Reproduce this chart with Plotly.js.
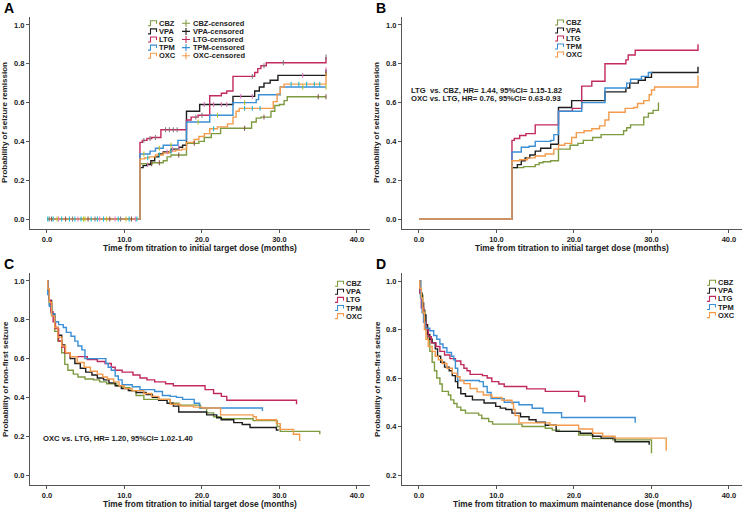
<!DOCTYPE html>
<html>
<head>
<meta charset="utf-8">
<script src="https://cdn.plot.ly/plotly-3.0.1.min.js"></script>
<style>html,body{margin:0;padding:0;background:#fff}#chart{width:745px;height:513px}</style>
</head>
<body>
<div id="chart"></div>
<script>
const drugs = ['CBZ', 'VPA', 'LTG', 'TPM', 'OXC'];
const colors = { CBZ: '#7f9b40', VPA: '#1e1e1e', LTG: '#c22a5d', TPM: '#3a8fd5', OXC: '#f39b4b' };

// panel A: seizure remission, time to initial target dose
const tA_CBZ = [0, 12.0, 13.6, 15.0, 15.5, 16.0, 18.0, 19.6, 20.3, 21.2, 22.4, 26.4, 27.0, 27.6, 28.9, 29.4, 30.0, 30.6, 31.0, 36];
const sA_CBZ = [0, 0.285, 0.29, 0.30, 0.32, 0.33, 0.39, 0.40, 0.42, 0.44, 0.468, 0.50, 0.52, 0.525, 0.555, 0.585, 0.59, 0.61, 0.63, 0.63];
const tA_VPA = [0, 12.0, 12.4, 12.9, 13.4, 13.9, 14.4, 15.0, 16.0, 17.0, 17.5, 18.0, 19.7, 24.0, 26.8, 27.4, 28.0, 28.8, 29.8, 36];
const sA_VPA = [0, 0.265, 0.275, 0.28, 0.30, 0.32, 0.335, 0.345, 0.36, 0.37, 0.38, 0.555, 0.59, 0.632, 0.66, 0.68, 0.70, 0.715, 0.74, 0.77];
const tA_LTG = [0, 12.0, 12.3, 12.9, 13.5, 14.7, 18.0, 18.6, 19.5, 21.0, 22.5, 23.2, 24.0, 26.8, 27.2, 27.6, 28.3, 36];
const sA_LTG = [0, 0.395, 0.405, 0.415, 0.42, 0.46, 0.51, 0.525, 0.535, 0.635, 0.648, 0.66, 0.735, 0.755, 0.775, 0.79, 0.805, 0.835];
const tA_TPM = [0, 12.0, 13.3, 14.0, 15.0, 16.9, 18.0, 21.0, 24.0, 27.0, 27.3, 30.1, 36];
const sA_TPM = [0, 0.335, 0.35, 0.365, 0.38, 0.405, 0.50, 0.535, 0.60, 0.615, 0.64, 0.68, 0.68];
const tA_OXC = [0, 12.0, 12.6, 13.2, 14.0, 15.0, 15.8, 16.6, 17.4, 18.0, 19.0, 19.6, 20.3, 21.0, 22.0, 23.3, 24.0, 24.4, 24.8, 29.2, 29.7, 30.1, 30.6, 36];
const sA_OXC = [0, 0.31, 0.315, 0.32, 0.33, 0.34, 0.35, 0.355, 0.36, 0.395, 0.41, 0.425, 0.44, 0.465, 0.475, 0.49, 0.525, 0.555, 0.57, 0.605, 0.645, 0.68, 0.695, 0.755];

// censored times in panel A
const cA_CBZ = [0.6, 2.4, 5.3, 8.1, 10.9, 13.5, 14.5, 17.0, 19.0, 25.5, 28.0, 35.0, 36];
const cA_VPA = [1.5, 4.0, 6.8, 8.8, 11.4, 13.0, 15.5, 16.2, 17.0, 20.3, 21.5, 22.5, 23.2, 25.0, 26.5, 33.0, 36];
const cA_LTG = [0.3, 3.3, 6.2, 9.5, 12.5, 13.3, 14.0, 15.3, 15.8, 16.3, 16.8, 19.2, 20.0, 26.5, 28.0, 30.5, 36];
const cA_TPM = [1.3, 4.7, 4.9, 7.7, 10.2, 12.5, 14.5, 16.0, 19.5, 22.0, 25.5, 33.0, 36];
const cA_OXC = [0.1, 0.8, 1.9, 2.9, 3.6, 4.4, 5.7, 6.5, 7.3, 9.2, 10.6, 11.6, 13.0, 14.5, 16.0, 21.5, 25.5, 26.5, 27.5, 31.5, 32.5, 33.5, 34.5, 35.2];

// panel B
const tB_CBZ = [0, 12, 13.5, 15.0, 15.5, 16.0, 17.0, 18.0, 19.5, 20.5, 21.2, 22.4, 23.5, 26.4, 26.8, 27.3, 29.0, 29.6, 30.2, 30.9];
const sB_CBZ = [0, 0.265, 0.27, 0.28, 0.29, 0.295, 0.30, 0.36, 0.38, 0.39, 0.405, 0.42, 0.435, 0.455, 0.47, 0.485, 0.525, 0.545, 0.56, 0.60];
const tB_VPA = [0, 12, 12.7, 13.2, 13.7, 14.3, 15.0, 15.7, 17.0, 18.0, 19.7, 24.0, 26.7, 27.2, 28.3, 29.2, 30.0, 36];
const sB_VPA = [0, 0.265, 0.28, 0.30, 0.315, 0.33, 0.35, 0.365, 0.385, 0.575, 0.61, 0.655, 0.675, 0.70, 0.715, 0.73, 0.755, 0.785];
const tB_LTG = [0, 12, 12.3, 13.0, 13.8, 15.0, 18.0, 19.8, 21.0, 22.3, 24.0, 26.7, 27.0, 27.9, 36];
const sB_LTG = [0, 0.405, 0.415, 0.43, 0.44, 0.485, 0.555, 0.57, 0.685, 0.71, 0.80, 0.82, 0.845, 0.87, 0.90];
const tB_TPM = [0, 12, 13.2, 14.2, 15.0, 17.0, 17.4, 18.0, 21.0, 24.0, 26.8, 27.3, 28.7, 29.6, 30.1];
const sB_TPM = [0, 0.345, 0.37, 0.375, 0.40, 0.405, 0.435, 0.555, 0.60, 0.675, 0.70, 0.72, 0.735, 0.755, 0.755];
const tB_OXC = [0, 12, 13.0, 14.0, 15.0, 16.3, 17.4, 18.0, 18.8, 19.7, 20.3, 21.3, 22.3, 23.3, 24.0, 24.5, 26.6, 27.7, 28.2, 29.0, 29.7, 30.0, 30.4, 36];
const sB_OXC = [0, 0.30, 0.305, 0.315, 0.325, 0.335, 0.36, 0.38, 0.39, 0.42, 0.445, 0.455, 0.465, 0.48, 0.51, 0.55, 0.57, 0.575, 0.595, 0.61, 0.64, 0.665, 0.68, 0.74];

// panel C: non-first seizure, time to initial target dose
const tC_CBZ = [0, 0.1, 0.3, 0.6, 1.0, 1.4, 1.9, 2.3, 2.7, 3.4, 4.0, 4.9, 6.0, 6.8, 7.7, 9.0, 9.8, 10.7, 11.5, 12.5, 15.9, 17.0, 19.8, 20.6, 21.5, 22.4, 26.6, 29.7, 30.1, 35.2];
const sC_CBZ = [1.0, 0.95, 0.88, 0.82, 0.74, 0.69, 0.63, 0.57, 0.54, 0.52, 0.505, 0.495, 0.49, 0.48, 0.47, 0.46, 0.45, 0.435, 0.41, 0.39, 0.37, 0.36, 0.345, 0.32, 0.30, 0.29, 0.28, 0.25, 0.225, 0.21];
const tC_VPA = [0, 0.1, 0.3, 0.6, 1.0, 1.4, 1.9, 2.3, 3.0, 3.6, 4.3, 5.0, 5.8, 6.5, 7.3, 8.0, 8.8, 9.6, 10.5, 11.5, 12.8, 13.6, 14.4, 15.5, 16.3, 17.0, 20.6, 21.9, 22.5, 24.1, 25.2, 26.2, 29.6, 29.9];
const sC_VPA = [1.0, 0.96, 0.90, 0.83, 0.76, 0.72, 0.67, 0.63, 0.60, 0.575, 0.55, 0.53, 0.515, 0.50, 0.49, 0.475, 0.46, 0.445, 0.435, 0.425, 0.415, 0.40, 0.385, 0.37, 0.355, 0.325, 0.31, 0.295, 0.285, 0.27, 0.26, 0.245, 0.232, 0.232];
const tC_LTG = [0, 0.1, 0.3, 0.5, 0.8, 1.1, 1.5, 1.9, 2.3, 3.0, 5.2, 6.5, 7.5, 8.3, 8.8, 9.7, 11.1, 12.0, 12.9, 13.9, 15.3, 16.3, 20.4, 21.5, 22.5, 23.2, 32.2];
const sC_LTG = [1.0, 0.96, 0.90, 0.84, 0.79, 0.755, 0.69, 0.66, 0.63, 0.61, 0.595, 0.585, 0.575, 0.555, 0.54, 0.53, 0.515, 0.50, 0.49, 0.48, 0.47, 0.46, 0.44, 0.42, 0.405, 0.385, 0.365];
const tC_TPM = [0, 0.1, 0.3, 0.6, 1.0, 1.5, 2.1, 2.5, 3.1, 3.6, 4.0, 4.5, 4.9, 7.6, 7.9, 8.3, 8.8, 9.2, 9.7, 11.0, 12.0, 13.9, 14.9, 15.9, 16.7, 17.5, 19.0, 19.7, 27.8];
const sC_TPM = [1.0, 0.93, 0.87, 0.83, 0.79, 0.775, 0.76, 0.735, 0.715, 0.69, 0.665, 0.645, 0.60, 0.575, 0.555, 0.54, 0.51, 0.49, 0.465, 0.455, 0.44, 0.43, 0.41, 0.405, 0.40, 0.39, 0.37, 0.345, 0.33];
const tC_OXC = [0, 0.1, 0.3, 0.6, 1.0, 1.4, 1.9, 2.4, 3.0, 3.9, 4.8, 5.6, 6.5, 7.2, 7.8, 8.6, 9.3, 10.0, 11.0, 12.5, 13.5, 14.4, 15.9, 17.2, 18.9, 20.0, 22.4, 26.6, 27.0, 29.6, 30.1, 31.8, 32.6];
const sC_OXC = [1.0, 0.96, 0.89, 0.82, 0.76, 0.71, 0.665, 0.63, 0.61, 0.58, 0.555, 0.535, 0.52, 0.505, 0.495, 0.48, 0.46, 0.445, 0.435, 0.42, 0.405, 0.39, 0.365, 0.355, 0.35, 0.345, 0.31, 0.30, 0.285, 0.265, 0.235, 0.21, 0.175];

// panel D: non-first seizure, time to maximum maintenance dose
const tD_CBZ = [0, 0.2, 0.5, 0.8, 1.1, 1.4, 1.7, 2.0, 2.3, 2.7, 3.0, 3.8, 4.1, 4.5, 4.9, 5.4, 6.0, 7.7, 8.1, 9.0, 9.5, 13.3, 16.3, 17.2, 18.1, 20.6, 22.4, 25.0, 30.0];
const sD_CBZ = [1.0, 0.94, 0.88, 0.82, 0.76, 0.71, 0.665, 0.63, 0.60, 0.575, 0.545, 0.53, 0.51, 0.495, 0.48, 0.467, 0.455, 0.447, 0.433, 0.42, 0.41, 0.40, 0.393, 0.385, 0.38, 0.365, 0.35, 0.345, 0.29];
const tD_VPA = [0, 0.2, 0.4, 0.6, 0.9, 1.1, 1.4, 1.7, 2.1, 2.4, 2.8, 3.3, 3.9, 4.3, 4.7, 5.0, 5.4, 6.0, 6.9, 8.4, 9.9, 10.5, 11.2, 12.0, 13.1, 14.2, 15.1, 16.3, 17.7, 20.8, 22.4, 23.5, 25.3, 29.7];
const sD_VPA = [1.0, 0.95, 0.91, 0.86, 0.82, 0.78, 0.76, 0.745, 0.72, 0.69, 0.665, 0.645, 0.63, 0.61, 0.585, 0.56, 0.535, 0.525, 0.51, 0.497, 0.483, 0.476, 0.47, 0.455, 0.44, 0.428, 0.418, 0.405, 0.38, 0.372, 0.36, 0.352, 0.337, 0.325];
const tD_LTG = [0, 0.1, 0.3, 0.6, 0.9, 1.2, 1.6, 2.2, 2.7, 3.3, 4.0, 4.7, 5.4, 5.8, 6.2, 6.6, 8.2, 8.8, 9.4, 10.3, 11.0, 13.9, 16.3, 20.6, 21.4];
const sD_LTG = [1.0, 0.95, 0.89, 0.83, 0.80, 0.77, 0.745, 0.73, 0.71, 0.695, 0.68, 0.67, 0.655, 0.64, 0.63, 0.615, 0.61, 0.60, 0.585, 0.575, 0.565, 0.555, 0.545, 0.525, 0.50];
const tD_TPM = [0, 0.2, 0.4, 0.6, 0.8, 1.4, 1.9, 2.3, 2.7, 3.1, 3.6, 4.2, 4.5, 4.7, 5.0, 7.8, 8.3, 8.8, 9.3, 11.0, 12.9, 14.6, 16.0, 18.4, 27.9];
const sD_TPM = [1.0, 0.93, 0.87, 0.83, 0.805, 0.795, 0.775, 0.76, 0.74, 0.725, 0.705, 0.69, 0.675, 0.64, 0.59, 0.585, 0.565, 0.54, 0.515, 0.50, 0.49, 0.475, 0.457, 0.437, 0.415];
const tD_OXC = [0, 0.1, 0.3, 0.5, 0.7, 0.9, 1.2, 1.7, 2.1, 2.5, 3.0, 3.6, 4.3, 4.9, 5.3, 5.8, 6.6, 7.5, 8.3, 9.4, 10.7, 12.0, 12.2, 12.4, 12.9, 16.9, 20.6, 22.4, 23.7, 25.3, 31.9];
const sD_OXC = [1.0, 0.97, 0.93, 0.87, 0.80, 0.76, 0.73, 0.71, 0.69, 0.675, 0.66, 0.64, 0.62, 0.605, 0.59, 0.577, 0.557, 0.543, 0.53, 0.52, 0.508, 0.495, 0.47, 0.445, 0.415, 0.405, 0.39, 0.372, 0.36, 0.352, 0.30];

const xTicks = [0, 10, 20, 30, 40];
const yTicks = [0, 0.2, 0.4, 0.6, 0.8, 1.0];
const yTicksD = [0.2, 0.4, 0.6, 0.8, 1.0];

const hrB1 = 'LTG  vs. CBZ, HR= 1.44, 95%CI= 1.15-1.82';
const hrB2 = 'OXC vs. LTG, HR= 0.76, 95%CI= 0.63-0.93';
const hrC = 'OXC vs. LTG, HR= 1.20, 95%CI= 1.02-1.40';
const xTitle1 = 'Time from titration to initial target dose (months)';
const xTitle2 = 'Time from titration to maximum maintenance dose (months)';
const yTitle1 = 'Probability of seizure remission';
const yTitle2 = 'Probability of non-first seizure';

const panelData = {
  A: { CBZ: [tA_CBZ, sA_CBZ], VPA: [tA_VPA, sA_VPA], LTG: [tA_LTG, sA_LTG], TPM: [tA_TPM, sA_TPM], OXC: [tA_OXC, sA_OXC] },
  B: { CBZ: [tB_CBZ, sB_CBZ], VPA: [tB_VPA, sB_VPA], LTG: [tB_LTG, sB_LTG], TPM: [tB_TPM, sB_TPM], OXC: [tB_OXC, sB_OXC] },
  C: { CBZ: [tC_CBZ, sC_CBZ], VPA: [tC_VPA, sC_VPA], LTG: [tC_LTG, sC_LTG], TPM: [tC_TPM, sC_TPM], OXC: [tC_OXC, sC_OXC] },
  D: { CBZ: [tD_CBZ, sD_CBZ], VPA: [tD_VPA, sD_VPA], LTG: [tD_LTG, sD_LTG], TPM: [tD_TPM, sD_TPM], OXC: [tD_OXC, sD_OXC] }
};
const censA = { CBZ: cA_CBZ, VPA: cA_VPA, LTG: cA_LTG, TPM: cA_TPM, OXC: cA_OXC };

const W = 745, H = 513;
const px = v => v / W;
const py = v => 1 - v / H;
const FONT = 'Liberation Sans, Arial, sans-serif';

// pixel boxes of the four plot areas
const panels = [
  { id: 'A', ax: '', left: 30, right: 370, top: 17, bottom: 229, yr: [-0.0515, 1.041], yt: yTicks, xt: xTitle1, ytl: yTitle1 },
  { id: 'B', ax: '2', left: 402, right: 742, top: 17, bottom: 229, yr: [-0.0515, 1.041], yt: yTicks, xt: xTitle1, ytl: yTitle1 },
  { id: 'C', ax: '3', left: 30, right: 370, top: 273, bottom: 485, yr: [-0.0515, 1.041], yt: yTicks, xt: xTitle1, ytl: yTitle2 },
  { id: 'D', ax: '4', left: 402, right: 742, top: 273, bottom: 485, yr: [0.1588, 1.033], yt: yTicksD, xt: xTitle2, ytl: yTitle2 }
];

function stepAt(t, s, x) {
  let v = s[0];
  for (let i = 0; i < t.length; i++) if (t[i] <= x) v = s[i];
  return v;
}

const traces = [];
const layout = {
  width: W, height: H,
  margin: { l: 0, r: 0, t: 0, b: 0 },
  paper_bgcolor: '#ffffff', plot_bgcolor: '#ffffff',
  showlegend: false,
  font: { family: FONT, color: '#222' },
  annotations: [], shapes: []
};

panels.forEach(p => {
  const xa = 'x' + p.ax, ya = 'y' + p.ax;
  drugs.forEach(d => {
    const [t, s] = panelData[p.id][d];
    traces.push({
      x: t, y: s, xaxis: xa, yaxis: ya, type: 'scatter', mode: 'lines',
      line: { shape: 'hv', color: colors[d], width: 1.4 },
      hoverinfo: 'skip'
    });
  });
  if (p.id === 'A') {
    drugs.forEach(d => {
      const [t, s] = panelData.A[d];
      traces.push({
        x: censA[d], y: censA[d].map(c => stepAt(t, s, c)), xaxis: xa, yaxis: ya,
        type: 'scatter', mode: 'markers',
        marker: { symbol: 'line-ns-open', size: 3.5, line: { color: colors[d], width: 1.1 } },
        hoverinfo: 'skip'
      });
    });
  }
  const axBase = {
    showline: true, linecolor: '#555', linewidth: 1, showgrid: false, zeroline: false,
    ticks: 'outside', ticklen: 3, tickcolor: '#555', tickformat: '.1f',
    tickfont: { family: FONT, size: 7.5, color: '#222', weight: 'bold' }, fixedrange: true
  };
  layout['xaxis' + p.ax] = Object.assign({}, axBase, {
    domain: [px(p.left), px(p.right)], range: [-2.19, 41.68], tickvals: xTicks, anchor: ya
  });
  layout['yaxis' + p.ax] = Object.assign({}, axBase, {
    domain: [py(p.bottom), py(p.top)], range: p.yr, tickvals: p.yt, anchor: xa
  });
  const cx = (p.left + p.right) / 2, cy = (p.top + p.bottom) / 2;
  layout.annotations.push({
    xref: 'paper', yref: 'paper', x: px(cx), y: py(p.bottom + 19), showarrow: false,
    text: p.xt, xanchor: 'center', yanchor: 'middle',
    font: { family: FONT, size: 8.4, color: '#222', weight: 'bold' }
  });
  layout.annotations.push({
    xref: 'paper', yref: 'paper', x: px(p.left - 25), y: py(cy), showarrow: false,
    text: p.ytl, textangle: -90, xanchor: 'center', yanchor: 'middle',
    font: { family: FONT, size: 8, color: '#222', weight: 'bold' }
  });
  layout.annotations.push({
    xref: 'paper', yref: 'paper', x: px(p.left - 28), y: py(p.top - 9), showarrow: false,
    text: p.id, xanchor: 'left', yanchor: 'middle',
    font: { family: FONT, size: 14, color: '#000', weight: 'bold' }
  });
});

// legends: glyph left px, first row px, row step, censored column
const legends = [
  { x: 148, y: 23.3, step: 8.1, cens: 186 },
  { x: 555, y: 22.5, step: 8.0 },
  { x: 335, y: 283.7, step: 8.1 },
  { x: 707, y: 282.7, step: 8.1 }
];
const legFont = { family: FONT, size: 7.5, color: '#222', weight: 'bold' };
legends.forEach(L => {
  drugs.forEach((d, i) => {
    const yc = L.y + i * L.step;
    const x0 = L.x;
    layout.shapes.push({
      type: 'path', xref: 'paper', yref: 'paper',
      path: `M${px(x0)},${py(yc + 2.5)} H${px(x0 + 2.5)} V${py(yc - 2.5)} H${px(x0 + 8.5)} V${py(yc + 0.5)}`,
      line: { color: colors[d], width: 1.1 }
    });
    layout.annotations.push({
      xref: 'paper', yref: 'paper', x: px(x0 + 8.5), y: py(yc), showarrow: false,
      text: d, xanchor: 'left', yanchor: 'middle', font: legFont
    });
    if (L.cens) {
      const c = L.cens;
      layout.shapes.push({
        type: 'path', xref: 'paper', yref: 'paper',
        path: `M${px(c - 4)},${py(yc)} H${px(c + 4)} M${px(c)},${py(yc - 3.5)} V${py(yc + 3.5)}`,
        line: { color: colors[d], width: 1.1 }
      });
      layout.annotations.push({
        xref: 'paper', yref: 'paper', x: px(c + 4.5), y: py(yc), showarrow: false,
        text: d + '-censored', xanchor: 'left', yanchor: 'middle', font: legFont
      });
    }
  });
});

const hrFont = { family: FONT, size: 7.7, color: '#222', weight: 'bold' };
layout.annotations.push({ xref: 'paper', yref: 'paper', x: px(486), y: py(90), showarrow: false, text: hrB1, xanchor: 'center', yanchor: 'middle', font: hrFont });
layout.annotations.push({ xref: 'paper', yref: 'paper', x: px(486), y: py(99), showarrow: false, text: hrB2, xanchor: 'center', yanchor: 'middle', font: hrFont });
layout.annotations.push({ xref: 'paper', yref: 'paper', x: px(41), y: py(438), showarrow: false, text: hrC, xanchor: 'left', yanchor: 'middle', font: hrFont });

Plotly.newPlot('chart', traces, layout, { displayModeBar: false, staticPlot: true });
</script>
</body>
</html>
